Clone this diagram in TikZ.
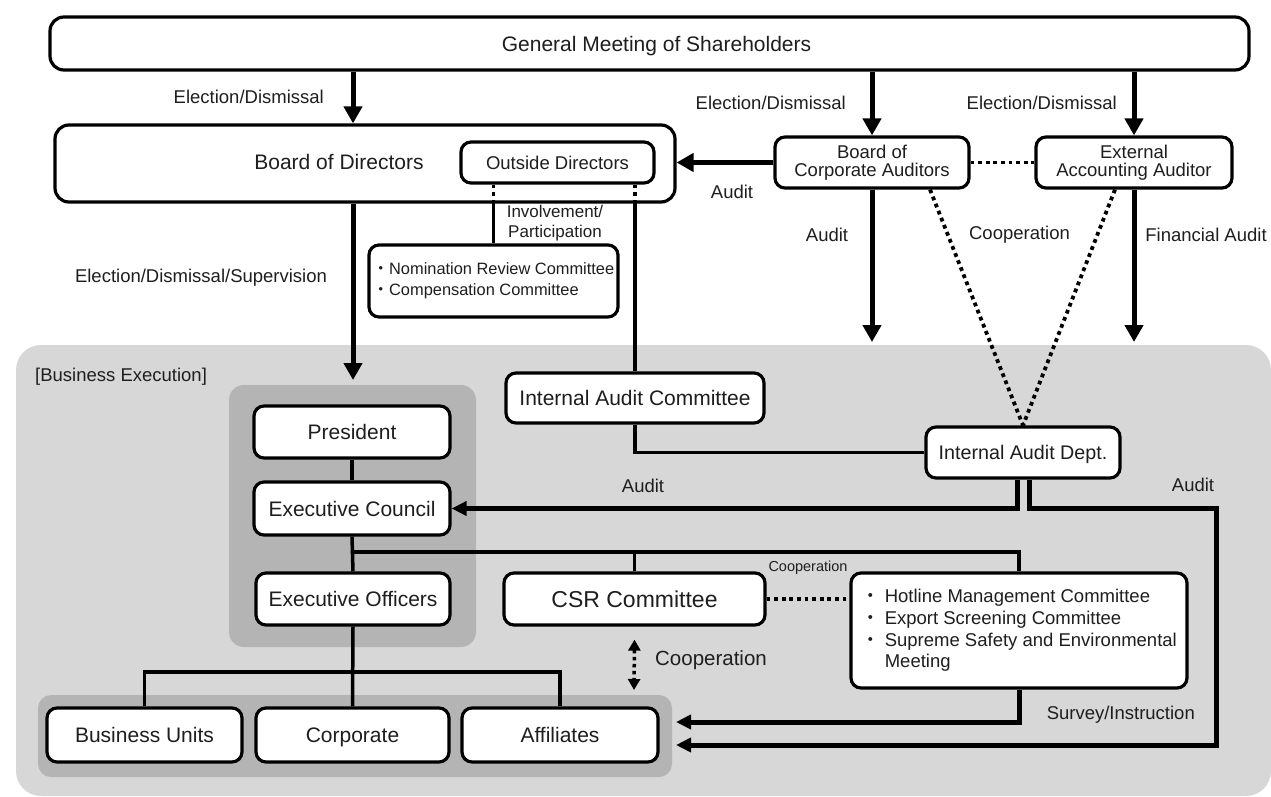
\documentclass[tikz,border=0pt]{standalone}
\usepackage{fontspec}
\setmainfont{Liberation Sans}
\newfontfamily\cjk{Noto Sans CJK JP}
\usetikzlibrary{arrows.meta}
\definecolor{areagray}{HTML}{D7D7D7}
\definecolor{grpgray}{HTML}{B4B4B4}
\definecolor{txt}{HTML}{1E1E1E}
\begin{document}
\begin{tikzpicture}[x=1pt,y=-1pt,
 box/.style={draw=black,line width=3.2pt,rounded corners=10pt,fill=white,inner sep=0pt,align=center,text=txt},
 one/.style={text depth=0pt},
 conn/.style={line width=3.5pt},
 arr/.style={line width=5pt,-{Triangle[length=17pt,width=18pt]}},
 arrS/.style={line width=5pt,-{Triangle[length=15pt,width=14pt]}},
 dots/.style={line width=3.8pt,dash pattern=on 3.8pt off 3.8pt},
 dbl/.style={line width=3.5pt,dash pattern=on 3.5pt off 3.5pt,{Triangle[length=11pt,width=12pt]}-{Triangle[length=11pt,width=12pt]}},
 lbl/.style={inner sep=0pt,align=center,text=txt},
 fBig/.style={font=\fontsize{21}{24}\selectfont},
 fLbl/.style={font=\fontsize{18.5}{18}\selectfont},
 fMid/.style={font=\fontsize{17}{20}\selectfont},
 fNom/.style={font=\fontsize{16.4}{21}\selectfont},
 fHot/.style={font=\fontsize{18.5}{21.7}\selectfont},
 fSm/.style={font=\fontsize{14.5}{16}\selectfont},
 fCsr/.style={font=\fontsize{23}{26}\selectfont},
]
\useasboundingbox (0,0) rectangle (1271,797);

% backgrounds
\node[fill=areagray,rounded corners=25pt,inner sep=0pt,minimum width=1255pt,minimum height=451pt] (area) at (643.5,570.5) {};
\node[fill=grpgray,rounded corners=15pt,inner sep=0pt,minimum width=247pt,minimum height=262pt] (execgrp) at (352.5,516) {};
\node[fill=grpgray,rounded corners=13pt,inner sep=0pt,minimum width=634pt,minimum height=82pt] (botgrp) at (355,736) {};
\node[lbl,fLbl,anchor=west] (bexec) at (35,377) {[Business Execution]};

% boxes
\node[box,one,rounded corners=14pt,fBig,minimum width=1199pt,minimum height=53pt] (gm) at (649.5,43.5) {\hspace{14pt}General Meeting of Shareholders};
\node[box,rounded corners=14pt,minimum width=620pt,minimum height=77pt] (bod) at (365,163.5) {};
\node[lbl,one,fBig] (bodt) at (339,162) {Board of Directors};
\node[box,one,fLbl,minimum width=193pt,minimum height=41pt] (od) at (557.5,162.5) {Outside Directors};
\node[box,fLbl,minimum width=194pt,minimum height=51pt] (bca) at (872,162.5) {Board of\\Corporate Auditors};
\node[box,fLbl,minimum width=196pt,minimum height=51pt] (eaa) at (1134,162.5) {External\\Accounting Auditor};
\node[box,fNom,align=left,minimum width=249pt,minimum height=72pt] (nom) at (493.5,281) {{\cjk ・}Nomination Review Committee\\{\cjk ・}Compensation Committee};

\node[box,one,fBig,minimum width=196pt,minimum height=52pt] (pres) at (352,432) {President};
\node[box,one,fBig,minimum width=196pt,minimum height=53pt] (ec) at (352,508.5) {Executive Council};
\node[box,one,fBig,minimum width=194pt,minimum height=52pt] (eo) at (353,599) {Executive Officers};
\node[box,one,fBig,minimum width=258pt,minimum height=50pt] (iac) at (635,398) {Internal Audit Committee};
\node[box,one,font=\fontsize{19.7}{22}\selectfont,minimum width=194pt,minimum height=51pt] (iad) at (1023,452.5) {Internal Audit Dept.};
\node[box,one,fCsr,minimum width=261pt,minimum height=52pt] (csr) at (634.5,599) {CSR Committee};
\node[box,fHot,align=left,minimum width=336pt,minimum height=115pt] (hot) at (1019,630.5) {{\cjk ・} Hotline Management Committee\\{\cjk ・} Export Screening Committee\\{\cjk ・} Supreme Safety and Environmental\\\hphantom{{\cjk ・}}\ Meeting};
\node[box,one,fBig,minimum width=195pt,minimum height=54pt] (bu) at (144.5,735) {Business Units};
\node[box,one,fBig,minimum width=193pt,minimum height=54pt] (corp) at (352.5,735) {Corporate};
\node[box,one,fBig,minimum width=196pt,minimum height=54pt] (aff) at (560,735) {Affiliates};

% helper coordinates
\coordinate (xA) at (353,0);
\coordinate (tipY) at (0,342);
\coordinate (bodTip) at (353,380);
\coordinate (rc) at (1216,508);
\coordinate (tipA) at (676,745);
\coordinate (tipS) at (676,722);
\coordinate (brY) at (0,552);
\coordinate (br2) at (0,672);
\coordinate (dB) at (634,690);

% election arrows
\draw[arr] (gm.south -| xA) -- (bod.north -| xA);
\draw[arr] (gm.south -| bca.north) -- (bca.north);
\draw[arr] (gm.south -| eaa.north) -- (eaa.north);
\node[lbl,fLbl,anchor=east] (l1) at (324,97) {Election/Dismissal};
\node[lbl,fLbl,anchor=east] (l2) at (846,103) {Election/Dismissal};
\node[lbl,fLbl,anchor=east] (l3) at (1117,103) {Election/Dismissal};

% auditors
\draw[arr] (bca.west) -- (bca.west -| bod.east);
\node[lbl,fLbl] (la1) at (732,192) {Audit};
\draw[dots] (bca.east) -- (eaa.west);
\draw[arr] (bca.south) -- (bca.south |- tipY);
\draw[arr] (eaa.south) -- (eaa.south |- tipY);
\node[lbl,fLbl] (la2) at (827,235) {Audit};
\node[lbl,fLbl] (lc1) at (1019.5,235) {Cooperation};
\node[lbl,fLbl] (lfa) at (1206,235) {Financial Audit};
\draw[dots] ([xshift=58pt]bca.south) -- (iad.north);
\draw[dots] ([xshift=-19pt]eaa.south) -- (iad.north);

% board of directors
\draw[arr] (bod.south -| xA) -- (bodTip);
\node[lbl,fLbl] (lsup) at (201,278) {Election/Dismissal/Supervision};
\draw[dots] (od.south -| nom.north) -- (bod.south -| nom.north);
\draw[conn] (bod.south -| nom.north) -- (nom.north);
\draw[dots] (od.south -| iac.north) -- (bod.south -| iac.north);
\draw[conn] (bod.south -| iac.north) -- (iac.north);
\node[lbl,fMid] (linv) at (555,223) {Involvement/\\Participation};

% internal audit
\draw[conn] (iac.south) |- (iad.west);
\draw[arrS] ([xshift=-5.5pt]iad.south) |- (ec.east);
\node[lbl,fLbl] (la3) at (643,486) {Audit};
\draw[arrS] ([xshift=6pt]iad.south) |- (rc) |- (tipA);
\node[lbl,fLbl] (la4) at (1193,485) {Audit};

% execution
\draw[conn] (pres.south) -- (ec.north);
\draw[conn] (ec.south) -- (eo.north);
\draw[conn] (ec.south |- brY) -| (hot.north);
\draw[conn] (brY -| csr.north) -- (csr.north);
\draw[dots] (csr.east) -- (csr.east -| hot.west);
\node[lbl,fSm] (lc2) at (808,568) {Cooperation};
\draw[dbl] ([yshift=-13pt]csr.south) -- (dB);
\node[lbl,font=\fontsize{20.5}{22}\selectfont] (lc3) at (711,660) {Cooperation};
\draw[arrS] (hot.south) |- (tipS);
\node[lbl,fLbl,anchor=east] (lsi) at (1195,715) {Survey/Instruction};
\draw[conn] (eo.south) -- (corp.north);
\draw[conn] (bu.north) |- (br2 -| aff.north) -- (aff.north);
\end{tikzpicture}
\end{document}
